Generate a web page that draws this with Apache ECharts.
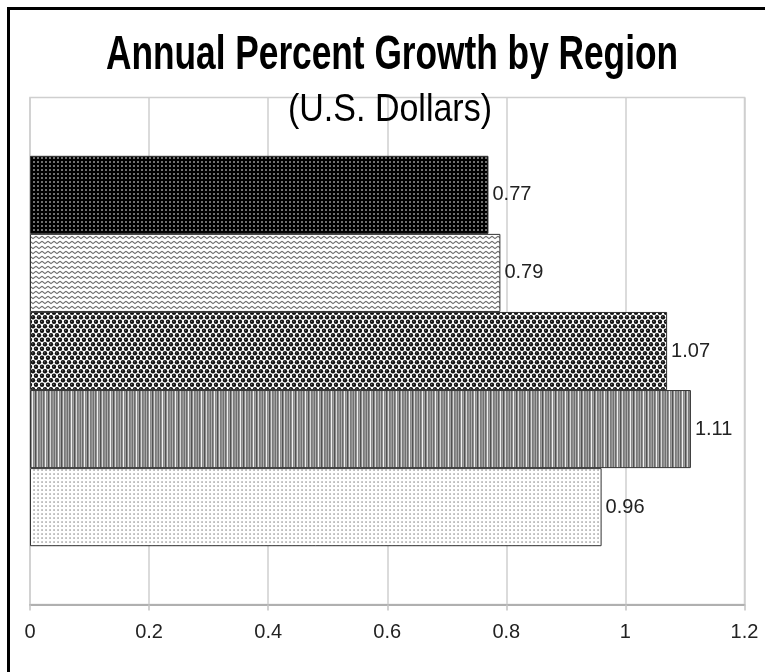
<!DOCTYPE html>
<html>
<head>
<meta charset="utf-8">
<style>html,body{margin:0;padding:0;background:#fff;}#c{width:765px;height:672px;}</style>
<script src="https://cdn.jsdelivr.net/npm/echarts@6/dist/echarts.min.js"></script>
</head>
<body>
<div id="c"></div>
<script>
// ---- data ----
const seriesNames = ['Region 1', 'Region 2', 'Region 3', 'Region 4', 'Region 5'];
const growth = [0.77, 0.79, 1.07, 1.11, 0.96];
const category = ['Annual Growth'];
const xMin = 0, xMax = 1.2, xStep = 0.2;
const titleText = 'Annual Percent Growth by Region';
const subtitleText = '(U.S. Dollars)';

// ---- patterns (style only) ----
function mk(w, h, draw) {
  const c = document.createElement('canvas');
  c.width = w; c.height = h;
  const g = c.getContext('2d');
  draw(g, w, h);
  return { image: c, repeat: 'repeat' };
}
const patterns = [
  mk(4, 4, (g) => { g.fillStyle = '#000'; g.fillRect(0,0,4,4); g.fillStyle = '#a0a0a0'; g.beginPath(); g.arc(2,2,0.95,0,Math.PI*2); g.fill(); }),
  mk(6, 5, (g) => { g.fillStyle = '#fff'; g.fillRect(0,0,6,5); g.strokeStyle = '#6e6e6e'; g.lineWidth = 1.2; g.beginPath(); g.moveTo(0,1.2); g.lineTo(3,3.6); g.lineTo(6,1.2); g.stroke(); }),
  mk(6, 9, (g) => { g.fillStyle = '#fff'; g.fillRect(0,0,6,9); g.fillStyle = '#111';
    [[3,2.25],[0,6.75],[6,6.75]].forEach(p => { g.beginPath(); g.arc(p[0],p[1],2.2,0,Math.PI*2); g.fill(); });
    g.fillStyle = '#888'; [[2.2,1.4],[-0.8,5.9],[5.2,5.9]].forEach(p => { g.fillRect(p[0],p[1],1,1); }); }),
  mk(13, 4, (g) => { const cols = ['#8c8c8c','#9a9a9a','#707070','#b0b0b0','#6a6a6a','#909090','#f0f0f0','#888','#a0a0a0','#505050','#8c8c8c','#d8d8d8','#7a7a7a'];
    cols.forEach((c,i) => { g.fillStyle = c; g.fillRect(i,0,1,4); }); }),
  mk(4, 4, (g) => { g.fillStyle = '#fff'; g.fillRect(0,0,4,4); g.fillStyle = '#7a7a7a'; g.fillRect(1.4,1.4,1.3,1.3); })
];

const chart = echarts.init(document.getElementById('c'), null, { renderer: 'canvas' });

const series = seriesNames.map((name, i) => ({
  name: name,
  type: 'bar',
  data: [growth[i]],
  barGap: '0%',
  barCategoryGap: '23%',
  itemStyle: { color: patterns[i], borderColor: '#333', borderWidth: 1 },
  label: {
    show: true, position: 'right', distance: 4,
    fontFamily: 'Liberation Sans, Arial, sans-serif', fontSize: 20, color: '#222'
  },
  emphasis: { disabled: true },
  animation: false
}));

chart.setOption({
  animation: false,
  backgroundColor: '#fff',
  grid: {
    left: 30, right: 20.5, top: 97.5, bottom: 67.5,
    containLabel: false, outerBoundsMode: 'none',
    show: true, borderColor: '#cfcfcf', borderWidth: 1.5, backgroundColor: 'transparent'
  },
  xAxis: {
    type: 'value', min: xMin, max: xMax, interval: xStep,
    axisLine: { show: true, lineStyle: { color: '#b0b0b0', width: 2 } },
    axisTick: { show: true, length: 6, lineStyle: { color: '#c4c4c4', width: 1.5 } },
    axisLabel: { fontFamily: 'Liberation Sans, Arial, sans-serif', fontSize: 20, color: '#222', margin: 18 },
    splitLine: { show: true, lineStyle: { color: '#cfcfcf', width: 1.5 } }
  },
  yAxis: {
    type: 'category', data: category, inverse: true,
    axisLine: { show: false }, axisTick: { show: false }, axisLabel: { show: false },
    splitLine: { show: false }
  },
  series: series,
  graphic: [
    { type: 'rect', shape: { x: 8.5, y: 8.5, width: 800, height: 700 }, style: { fill: 'none', stroke: '#000', lineWidth: 3 }, silent: true, z: 100 },
    { type: 'text', x: 392, y: 56, scaleX: 0.82, scaleY: 1.1, style: { text: titleText, textAlign: 'center', textVerticalAlign: 'middle',
        fontFamily: 'Liberation Sans, Arial, sans-serif', fontWeight: 'bold', fontSize: 43, fill: '#000' }, z: 100 },
    { type: 'text', x: 390, y: 110, scaleY: 1.15, style: { text: subtitleText, textAlign: 'center', textVerticalAlign: 'middle',
        fontFamily: 'Liberation Sans, Arial, sans-serif', fontSize: 34, fill: '#000' }, z: 100 }
  ]
});
</script>
</body>
</html>
